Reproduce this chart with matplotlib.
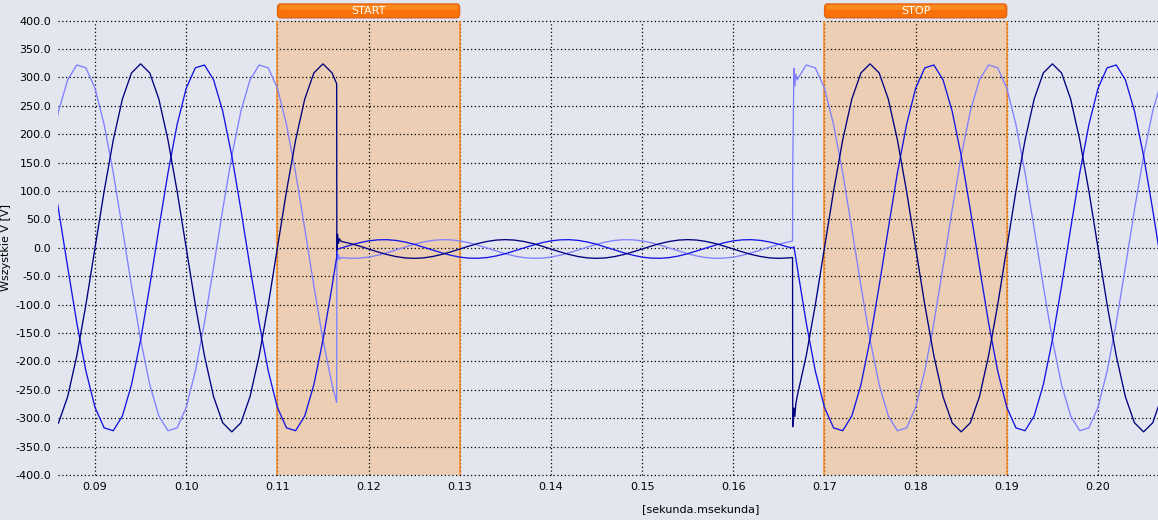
import matplotlib
matplotlib.use("Agg")
import matplotlib.pyplot as plt
from matplotlib.patches import FancyBboxPatch
from matplotlib.ticker import FormatStrFormatter
import matplotlib.transforms as mtransforms

# sample times in milliseconds (extra points around the two switching events)
t_ms = [85, 86, 87, 88, 89, 90, 91, 92, 93, 94, 95, 96, 97, 98, 99, 100,
        101, 102, 103, 104, 105, 106, 107, 108, 109, 110, 111, 112, 113, 114, 115, 116,
        116.5, 116.52, 116.6, 116.7, 116.8,
        117, 118, 119, 120, 121, 122, 123, 124, 125, 126, 127, 128, 129, 130, 131, 132,
        133, 134, 135, 136, 137, 138, 139, 140, 141, 142, 143, 144, 145, 146, 147, 148,
        149, 150, 151, 152, 153, 154, 155, 156, 157, 158, 159, 160, 161, 162, 163, 164,
        165, 166,
        166.5, 166.52, 166.65, 166.75, 166.85,
        167, 168, 169, 170, 171, 172, 173, 174, 175, 176, 177, 178, 179, 180, 181, 182,
        183, 184, 185, 186, 187, 188, 189, 190, 191, 192, 193, 194, 195, 196, 197, 198,
        199, 200, 201, 202, 203, 204, 205, 206, 207]

# phase voltages [V]
v_l1 = [-324, -308, -262, -190, -100, 0, 100, 190, 262, 308, 324, 308, 262, 190, 100, 0,
        -100, -190, -262, -308, -324, -308, -262, -190, -100, 0, 100, 190, 262, 308, 324, 308,
        289, -4, 24, 8, 16,
        11.3, 7.7, 3.1, -2, -7.1, -11.7, -15.3, -17.7,
        -18.5, -17.7, -15.3, -11.7, -7.1, -2, 3.1, 7.7, 11.3, 13.7, 14.5, 13.7, 11.3, 7.7, 3.1, -2,
        -7.1, -11.7, -15.3, -17.7,
        -18.5, -17.7, -15.3, -11.7, -7.1, -2, 3.1, 7.7, 11.3, 13.7, 14.5, 13.7, 11.3, 7.7, 3.1, -2,
        -7.1, -11.7, -15.3, -17.7,
        -18.5, -17.7,
        -17, -315, -282, -297, -276,
        -262, -190, -100, 0, 100, 190, 262, 308, 324, 308, 262, 190, 100, 0, -100, -190, -262, -308,
        -324, -308, -262, -190, -100, 0, 100, 190, 262, 308, 324, 308, 262, 190, 100, 0, -100, -190,
        -262, -308,
        -324, -308, -262]

v_l2 = [162, 67, -34, -132, -217, -281, -317, -322, -296, -241, -162, -67, 34, 132, 217, 281,
        317, 322, 296, 241, 162, 67, -34, -132, -217, -281, -317, -322, -296, -241, -162, -67,
        -17, -3, -2, -2, -1,
        -0.3, 4.7, 9.0, 12.3, 14.1, 14.4, 13.1, 10.3,
        6.3, 1.4, -3.7, -8.7, -13.0, -16.3, -18.1, -18.4, -17.1, -14.3, -10.3, -5.4, -0.3, 4.7, 9.0,
        12.3, 14.1, 14.4, 13.1, 10.3,
        6.3, 1.4, -3.7, -8.7, -13.0, -16.3, -18.1, -18.4, -17.1, -14.3, -10.3, -5.4, -0.3, 4.7, 9.0,
        12.3, 14.1, 14.4, 13.1, 10.3,
        6.3, 1.4,
        0, 0, 2, -8, -18,
        -34, -132, -217, -281, -317, -322, -296, -241, -162, -67, 34, 132, 217, 281, 317, 322, 296, 241,
        162, 67, -34, -132, -217, -281, -317, -322, -296, -241, -162, -67, 34, 132, 217, 281, 317, 322,
        296, 241,
        162, 67, -34]

v_l3 = [162, 241, 296, 322, 317, 281, 217, 132, 34, -67, -162, -241, -296, -322, -317, -281,
        -217, -132, -34, 67, 162, 241, 296, 322, 317, 281, 217, 132, 34, -67, -162, -241,
        -272, -5, -22, -12, -20,
        -17.1, -18.4, -18.1, -16.3, -13.0, -8.7, -3.7, 1.4,
        6.3, 10.3, 13.1, 14.4, 14.1, 12.3, 9.0, 4.7, -0.3, -5.4, -10.3, -14.3, -17.1, -18.4, -18.1,
        -16.3, -13.0, -8.7, -3.7, 1.4,
        6.3, 10.3, 13.1, 14.4, 14.1, 12.3, 9.0, 4.7, -0.3, -5.4, -10.3, -14.3, -17.1, -18.4, -18.1,
        -16.3, -13.0, -8.7, -3.7, 1.4,
        6.3, 10.3,
        12, 144, 316, 285, 306,
        296, 322, 317, 281, 217, 132, 34, -67, -162, -241, -296, -322, -317, -281, -217, -132, -34, 67,
        162, 241, 296, 322, 317, 281, 217, 132, 34, -67, -162, -241, -296, -322, -317, -281, -217, -132,
        -34, 67,
        162, 241, 296]

span_starts = [0.11, 0.17]
span_ends = [0.13, 0.19]
span_labels = ["START", "STOP"]

x_ticks = [0.09, 0.10, 0.11, 0.12, 0.13, 0.14, 0.15, 0.16, 0.17, 0.18, 0.19, 0.20]

bg = "#E3E6EE"
t_s = [v / 1000.0 for v in t_ms]

fig = plt.figure(figsize=(11.58, 5.20), dpi=100, facecolor=bg)
ax = fig.add_axes([0.0501, 0.0865, 0.9499, 0.8737])
ax.set_facecolor(bg)

ax.plot(t_s, v_l3, color="#8080FF", lw=0.95, zorder=3)
ax.plot(t_s, v_l2, color="#1414E6", lw=0.95, zorder=3)
ax.plot(t_s, v_l1, color="#000080", lw=0.95, zorder=4)

ax.set_xlim(0.08594, 0.20658)
ax.set_ylim(-400, 400)
ax.set_xticks(x_ticks)
ax.set_yticks(range(-400, 401, 50))
ax.xaxis.set_major_formatter(FormatStrFormatter("%.2f"))
ax.yaxis.set_major_formatter(FormatStrFormatter("%.1f"))
ax.tick_params(length=0, labelsize=8, pad=5, colors="black")
ax.grid(True, color="black", linestyle=(0, (1, 2)), linewidth=0.9)
ax.set_axisbelow(True)
for gl in ax.get_xgridlines() + ax.get_ygridlines():
    gl.set_clip_on(False)
for s in ax.spines.values():
    s.set_visible(False)

# shaded intervals sit under the grid, their orange edges above it
for x0, x1 in zip(span_starts, span_ends):
    ax.axvspan(x0, x1, facecolor="#EBCEB3", edgecolor="none", zorder=0.2)
    ax.axvline(x0, color="#F5891F", lw=1.1, zorder=2.8)
    ax.axvline(x1, color="#F5891F", lw=1.1, zorder=2.8)

ax.set_xlabel("[sekunda.msekunda]", fontsize=8)
ax.xaxis.set_label_coords(0.584, -0.065)
ax.set_ylabel("Wszystkie V [V]", fontsize=8)
ax.yaxis.set_label_coords(-0.043, 0.5)

# orange tags above the marked intervals
trans = mtransforms.blended_transform_factory(ax.transData, ax.transAxes)
for x0, x1, lab in zip(span_starts, span_ends, span_labels):
    tag = FancyBboxPatch((x0, 1.006), x1 - x0, 0.031,
                         boxstyle="round,pad=0,rounding_size=0.0003",
                         transform=trans, facecolor="#F87008", edgecolor="#E06210",
                         lw=0.8, clip_on=False, zorder=5, mutation_aspect=30)
    ax.add_patch(tag)
    # lighter upper half for the glossy look of the tag
    ax.add_patch(FancyBboxPatch((x0 + 0.0002, 1.024), x1 - x0 - 0.0004, 0.011,
                                boxstyle="round,pad=0,rounding_size=0.0002",
                                transform=trans, facecolor="#FB8A1E", edgecolor="none",
                                clip_on=False, zorder=5.5, mutation_aspect=30))
    ax.text((x0 + x1) / 2, 1.0215, lab, transform=trans, ha="center", va="center",
            color="white", fontsize=8, clip_on=False, zorder=6)

fig.savefig("out.png", dpi=100, facecolor=bg)
